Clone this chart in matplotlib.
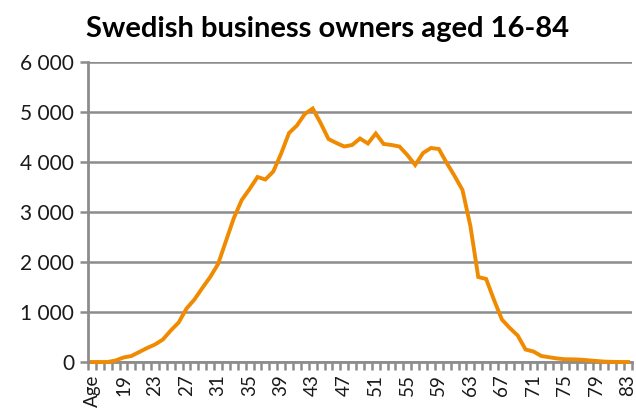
import matplotlib.pyplot as plt
from matplotlib.ticker import FixedLocator, FuncFormatter

# Categories: a header cell "Age" followed by ages 16-83
AGES = ["Age"] + [str(a) for a in range(16, 84)]
OWNERS = [
    0,
    0, 0, 30, 90, 120, 200, 280, 350, 450, 630,           # 16-25
    790, 1070, 1250, 1480, 1700, 1960, 2420, 2880, 3240, 3460,  # 26-35
    3700, 3650, 3810, 4170, 4580, 4730, 4960, 5070, 4780, 4460,  # 36-45
    4380, 4310, 4340, 4470, 4370, 4570, 4360, 4340, 4310, 4140,  # 46-55
    3940, 4180, 4280, 4260, 3980, 3720, 3440, 2720, 1700, 1660,  # 56-65
    1240, 850, 680, 530, 250, 210, 120, 95, 70, 55,              # 66-75
    53, 47, 33, 20, 8, 3, 0, 0,                                  # 76-83
]
Y_TICKS = [0, 1000, 2000, 3000, 4000, 5000, 6000]

TITLE = "Swedish business owners aged 16-84"
LINE_COLOR = "#F08A00"
GRID_COLOR = "#8C8C8C"
FONT = "Lato"

plt.rcParams["font.family"] = [FONT, "DejaVu Sans"]

fig = plt.figure(figsize=(6.36, 4.18), dpi=100)
ax = fig.add_axes([88 / 636, 1 - 362 / 418, 544 / 636, 300 / 418])

x = list(range(len(AGES)))
ax.plot(x, OWNERS, color=LINE_COLOR, linewidth=2.8, solid_joinstyle="miter",
        zorder=3, clip_on=False)

ax.set_xlim(-0.5, len(AGES) - 0.5)
ax.set_ylim(0, 6000)

# y axis: gridlines + thousands with a space separator
ax.yaxis.set_major_locator(FixedLocator(Y_TICKS))
ax.yaxis.set_major_formatter(FuncFormatter(lambda v, _: f"{int(v):,}".replace(",", " ")))
ax.grid(axis="y", color=GRID_COLOR, linewidth=1.8, zorder=1)
ax.tick_params(axis="y", length=6, width=1.8, color=GRID_COLOR, labelsize=15,
               labelcolor="#1a1a1a", pad=4)

# x axis: labels every 4th category, tick marks between categories
label_pos = x[::4]
ax.xaxis.set_major_locator(FixedLocator(label_pos))
ax.set_xticklabels([AGES[i] for i in label_pos], rotation=90)
ax.xaxis.set_minor_locator(FixedLocator([i - 0.5 for i in range(len(AGES) + 1)]))
ax.tick_params(axis="x", which="major", length=0, labelsize=13.5,
               labelcolor="#1a1a1a", pad=9)
ax.tick_params(axis="x", which="minor", length=6, width=1.8, color=GRID_COLOR)

for side in ("top", "right"):
    ax.spines[side].set_visible(False)
for side in ("left", "bottom"):
    ax.spines[side].set_color(GRID_COLOR)
    ax.spines[side].set_linewidth(2.0)

fig.text(0.515, 0.93, TITLE, ha="center", va="center",
         fontsize=21, fontweight="bold", color="black")

fig.savefig("out.png", dpi=100)
